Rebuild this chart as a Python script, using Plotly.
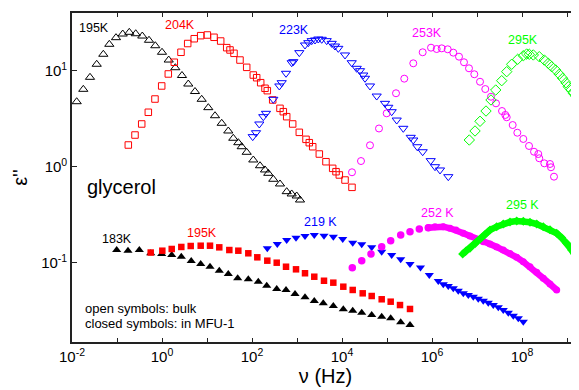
import plotly.graph_objects as go

# ---- values: log10 of frequency (Hz) and log10 of eps'' ----
# bulk (open symbols)
bulk195_lf = [-1.896, -1.749, -1.6, -1.451, -1.304, -1.171, -1.022, -0.873, -0.727, -0.584, -0.438, -0.289,
              -0.149, 0.0, 0.149, 0.296, 0.444, 0.584, 0.733, 0.882, 1.029, 1.178, 1.327, 1.473, 1.584, 1.696,
              1.771, 1.882, 2.029, 2.178, 2.289, 2.362, 2.473, 2.622, 2.771, 2.882, 2.993, 3.067]
bulk195_le = [0.677, 0.806, 0.931, 1.067, 1.171, 1.275, 1.344, 1.382, 1.4, 1.385, 1.361, 1.317,
              1.26, 1.192, 1.111, 1.031, 0.95, 0.861, 0.783, 0.702, 0.615, 0.531, 0.452, 0.372, 0.296, 0.25,
              0.208, 0.15, 0.07, 0.01, -0.034, -0.069, -0.131, -0.18, -0.26, -0.284, -0.305, -0.347]

bulk204_lf = [-0.749, -0.6, -0.451, -0.304, -0.156, -0.007, 0.14, 0.273, 0.422, 0.571, 0.716, 0.86, 1.007,
              1.156, 1.304, 1.438, 1.511, 1.6, 1.733, 1.882, 2.029, 2.104, 2.193, 2.289, 2.34, 2.46, 2.622,
              2.696, 2.771, 2.904, 3.051, 3.2, 3.273, 3.349, 3.496, 3.644, 3.793, 3.867, 3.94, 4.067, 4.222]
bulk204_le = [0.226, 0.33, 0.445, 0.567, 0.705, 0.841, 0.966, 1.088, 1.192, 1.283, 1.333, 1.365, 1.372,
              1.348, 1.309, 1.24, 1.216, 1.181, 1.111, 1.035, 0.955, 0.927, 0.875, 0.817, 0.792, 0.695, 0.608,
              0.573, 0.521, 0.445, 0.358, 0.285, 0.25, 0.208, 0.132, 0.052, -0.017, -0.052, -0.086, -0.139, -0.215]

bulk223_lf = [2.016, 2.089, 2.162, 2.251, 2.311, 2.473, 2.607, 2.66, 2.756, 2.882, 2.918, 3.051, 3.178,
              3.251, 3.327, 3.4, 3.473, 3.549, 3.66, 3.771, 3.844, 3.918, 4.067, 4.216, 4.327, 4.4, 4.473,
              4.511, 4.622, 4.771, 4.956, 5.029, 5.104, 5.216, 5.362, 5.527, 5.584, 5.673, 5.793, 5.971,
              6.067, 6.178, 6.362]
bulk223_le = [0.313, 0.354, 0.445, 0.521, 0.556, 0.702, 0.841, 0.875, 0.973, 1.083, 1.094, 1.188, 1.268,
              1.292, 1.313, 1.32, 1.33, 1.327, 1.313, 1.285, 1.257, 1.233, 1.164, 1.083, 1.025, 1.0, 0.955,
              0.921, 0.841, 0.736, 0.66, 0.619, 0.573, 0.486, 0.4, 0.306, 0.278, 0.208, 0.156, 0.063,
              0.0, -0.034, -0.104]

bulk253_lf = [4.222, 4.422, 4.622, 4.822, 4.993, 5.2, 5.384, 5.584, 5.793, 5.978, 6.104, 6.216, 6.349,
              6.473, 6.6, 6.711, 6.822, 6.94, 7.067, 7.184, 7.311, 7.422, 7.556, 7.629, 7.66, 7.793, 7.896,
              8.029, 8.156, 8.267, 8.362, 8.384, 8.496, 8.622, 8.644, 8.711]
bulk253_le = [-0.058, 0.059, 0.223, 0.398, 0.556, 0.765, 0.917, 1.077, 1.192, 1.24, 1.226, 1.233, 1.223,
              1.188, 1.146, 1.088, 1.025, 0.963, 0.885, 0.809, 0.729, 0.66, 0.58, 0.539, 0.515, 0.434, 0.354,
              0.289, 0.216, 0.156, 0.132, 0.088, 0.035, 0.028, -0.006, -0.104]

bulk295_lf = [6.829, 6.956, 7.067, 7.2, 7.311, 7.416, 7.549, 7.66, 7.771, 7.904, 8.029, 8.104, 8.162,
              8.251, 8.384, 8.496, 8.584, 8.66, 8.749, 8.829, 8.904, 8.978, 9.029, 9.089, 9.14, 9.2, 9.251,
              9.311, 9.378]
bulk295_le = [0.278, 0.372, 0.473, 0.58, 0.695, 0.799, 0.896, 0.99, 1.067, 1.119, 1.156, 1.174, 1.171,
              1.164, 1.146, 1.111, 1.077, 1.042, 1.007, 0.963, 0.921, 0.875, 0.833, 0.799, 0.765, 0.729, 0.695,
              0.653, 0.611]

# confined in MFU-1 (closed symbols)
mfu183_lf = [-1.007, -0.756, -0.504, -0.251, -0.007, 0.216, 0.429, 0.649, 0.86, 1.067, 1.273, 1.473, 1.682,
             1.918, 2.14, 2.327, 2.549, 2.756, 2.956, 3.178, 3.384, 3.584, 3.807, 4.029, 4.238, 4.438, 4.66,
             4.882, 5.082, 5.304, 5.511]
mfu183_le = [-0.868, -0.875, -0.868, -0.902, -0.909, -0.92, -0.938, -0.982, -1.014, -1.042, -1.083, -1.118,
             -1.163, -1.173, -1.198, -1.24, -1.274, -1.284, -1.326, -1.36, -1.399, -1.423, -1.451, -1.485,
             -1.5, -1.521, -1.545, -1.563, -1.579, -1.621, -1.649]

mfu195_lf = [-0.251, 0.007, 0.216, 0.429, 0.638, 0.86, 1.067, 1.273, 1.496, 1.696, 1.918, 2.118, 2.34, 2.549,
             2.756, 2.978, 3.178, 3.384, 3.6, 3.807, 4.029, 4.238, 4.46, 4.66, 4.882, 5.082, 5.289, 5.511]
mfu195_le = [-0.894, -0.875, -0.857, -0.836, -0.826, -0.823, -0.823, -0.84, -0.868, -0.875, -0.902, -0.944,
             -0.979, -1.0, -1.042, -1.069, -1.11, -1.146, -1.188, -1.208, -1.25, -1.284, -1.319, -1.347,
             -1.381, -1.406, -1.441, -1.482]

mfu219_lf = [2.34, 2.562, 2.771, 2.978, 3.178, 3.384, 3.6, 3.807, 4.016, 4.238, 4.438, 4.66, 4.882, 5.104,
             5.304, 5.511, 5.744, 5.94, 6.14, 6.251, 6.362, 6.473, 6.584, 6.696, 6.807, 6.918, 7.029, 7.14,
             7.251, 7.362, 7.473, 7.584, 7.696, 7.807, 7.918, 8.029]
mfu219_le = [-0.85, -0.805, -0.764, -0.74, -0.722, -0.711, -0.719, -0.729, -0.753, -0.792, -0.808, -0.84,
             -0.885, -0.92, -0.965, -1.014, -1.05, -1.128, -1.191, -1.225, -1.243, -1.267, -1.292, -1.319,
             -1.336, -1.354, -1.375, -1.396, -1.417, -1.441, -1.465, -1.493, -1.521, -1.552, -1.579, -1.615]

mfu252_lf = [4.229, 4.438, 4.644, 4.882, 5.082, 5.304, 5.511, 5.718, 5.918]
mfu252_le = [-1.052, -0.979, -0.909, -0.833, -0.771, -0.711, -0.677, -0.649, -0.635]
mfu252_dense_lf = [5.918, 6.067, 6.251, 6.4, 6.533, 6.696, 6.844, 6.993, 7.14, 7.289, 7.438, 7.584, 7.733,
                   7.882, 8.029, 8.178, 8.327, 8.473, 8.622, 8.771]
mfu252_dense_le = [-0.635, -0.625, -0.625, -0.642, -0.659, -0.694, -0.722, -0.756, -0.781, -0.805, -0.836,
                   -0.868, -0.904, -0.944, -0.99, -1.042, -1.1, -1.163, -1.222, -1.284]

mfu295_lf = [6.682, 6.756, 6.844, 6.956, 7.067, 7.178, 7.289, 7.438, 7.584, 7.733, 7.882, 8.029, 8.178,
             8.327, 8.473, 8.622, 8.771, 8.882, 8.993, 9.104, 9.216, 9.311]
mfu295_le = [-0.909, -0.878, -0.85, -0.802, -0.756, -0.706, -0.659, -0.625, -0.597, -0.576, -0.566, -0.569,
             -0.579, -0.597, -0.625, -0.656, -0.694, -0.74, -0.798, -0.868, -0.954, -1.034]

x_major_decades = [-2, 0, 2, 4, 6, 8]
x_minor_decades = [-1, 1, 3, 5, 7, 9]
y_decades = [-1, 0, 1]


def lin(vals):
    return [10 ** v for v in vals]


BLACK, RED, BLUE, MAG, GREEN = "#000000", "#ff0000", "#0000ff", "#ff00ff", "#00ff00"

fig = go.Figure()


def add(lf, le, color, symbol, size, lw=1.0, mode="markers", linew=0):
    fig.add_trace(go.Scatter(
        x=lin(lf), y=lin(le), mode=mode,
        marker=dict(symbol=symbol, size=size, color=color, line=dict(color=color, width=lw)),
        line=dict(color=color, width=linew) if linew else None,
        showlegend=False, hoverinfo="skip"))


# open symbols (bulk)
add(bulk195_lf, bulk195_le, BLACK, "triangle-up-open", 8)
add(bulk204_lf, bulk204_le, RED, "square-open", 6.5)
add(bulk223_lf, bulk223_le, BLUE, "triangle-down-open", 8)
add(bulk253_lf, bulk253_le, MAG, "circle-open", 7)
add(bulk295_lf, bulk295_le, GREEN, "diamond-open", 8)

# closed symbols (MFU-1)
add(mfu183_lf, mfu183_le, BLACK, "triangle-up", 8, lw=0)
add(mfu195_lf, mfu195_le, RED, "square", 6.5, lw=0)
add(mfu219_lf, mfu219_le, BLUE, "triangle-down", 8, lw=0)
add(mfu252_lf, mfu252_le, MAG, "circle", 7.5, lw=0)
add(mfu252_dense_lf, mfu252_dense_le, MAG, "circle", 7, lw=0, mode="lines+markers", linew=6.5)
add(mfu295_lf, mfu295_le, GREEN, "diamond", 7, lw=0, mode="lines+markers", linew=6.5)

# page geometry (the html body adds an 8px offset)
OFF = 8
PLOT_L, PLOT_R, PLOT_T, PLOT_B = 72, 579, 13, 342   # plot area in page pixels
W, H = 579 - OFF, 382
L, T = PLOT_L - OFF, PLOT_T - OFF
B = H - (PLOT_B - OFF)
R = W - (PLOT_R - OFF)
pw, ph = PLOT_R - PLOT_L, PLOT_B - PLOT_T


def px(x):
    return (x - PLOT_L) / pw


def py(y):
    return (PLOT_B - y) / ph


labels = [
    ("195K", 94, 28, BLACK), ("204K", 180, 25, RED), ("223K", 294, 30, BLUE),
    ("253K", 427, 33, MAG), ("295K", 523, 40, GREEN),
    ("183K", 117, 239, BLACK), ("195K", 202, 233, RED), ("219 K", 320, 222, BLUE),
    ("252 K", 437, 213, MAG), ("295 K", 522, 205, GREEN),
]
for txt, x, y, c in labels:
    fig.add_annotation(text=txt, x=px(x), y=py(y), xref="paper", yref="paper",
                       xanchor="center", yanchor="middle",
                       showarrow=False, font=dict(size=12.5, color=c))

fig.add_annotation(text="glycerol", x=px(121), y=py(187), xref="paper", yref="paper",
                   xanchor="center", yanchor="middle",
                   showarrow=False, font=dict(size=20, color=BLACK))
fig.add_annotation(text="open symbols: bulk", x=px(83), y=py(308.5), xref="paper", yref="paper",
                   xanchor="left", yanchor="middle", showarrow=False, font=dict(size=13, color=BLACK))
fig.add_annotation(text="closed symbols: in MFU-1", x=px(83), y=py(323.5), xref="paper", yref="paper",
                   xanchor="left", yanchor="middle", showarrow=False, font=dict(size=13, color=BLACK))

xt_vals = [10 ** k for k in x_major_decades]
xt_text = [f"10<sup>{k}</sup>" for k in x_major_decades]
xm_vals = [10 ** k for k in x_minor_decades]
yt_vals = [10 ** k for k in y_decades]
yt_text = [f"10<sup>{k}</sup>" for k in y_decades]

axis_col = "#222222"
fig.update_layout(
    width=W, height=H,
    margin=dict(l=L, r=R, t=T, b=B, pad=0, autoexpand=False),
    paper_bgcolor="white", plot_bgcolor="white",
    font=dict(family="Liberation Sans, Arial, sans-serif", color="black"),
    showlegend=False,
    xaxis=dict(type="log", range=[-2, -2 + pw / 45.0], tickvals=xt_vals, ticktext=xt_text,
               ticks="inside", ticklen=4, tickwidth=1.2, tickcolor=axis_col,
               minor=dict(tickvals=xm_vals, ticks="inside", ticklen=4, tickwidth=1.2,
                          tickcolor=axis_col, showgrid=False),
               showline=True, linewidth=1.6, linecolor=axis_col, mirror="ticks",
               showgrid=False, zeroline=False, tickfont=dict(size=15),
               title=dict(text="ν (Hz)", font=dict(size=20), standoff=2)),
    yaxis=dict(type="log", range=[1 - (PLOT_B - 70.7) / 96.0, 1 + (70.7 - PLOT_T) / 96.0],
               tickvals=yt_vals, ticktext=yt_text,
               ticks="inside", ticklen=5, tickwidth=1.2, tickcolor=axis_col,
               showline=True, linewidth=1.6, linecolor=axis_col, mirror=False,
               showgrid=False, zeroline=False, tickfont=dict(size=15),
               title=dict(text="ε''", font=dict(size=20), standoff=8)),
)

fig.write_html("out.html")
